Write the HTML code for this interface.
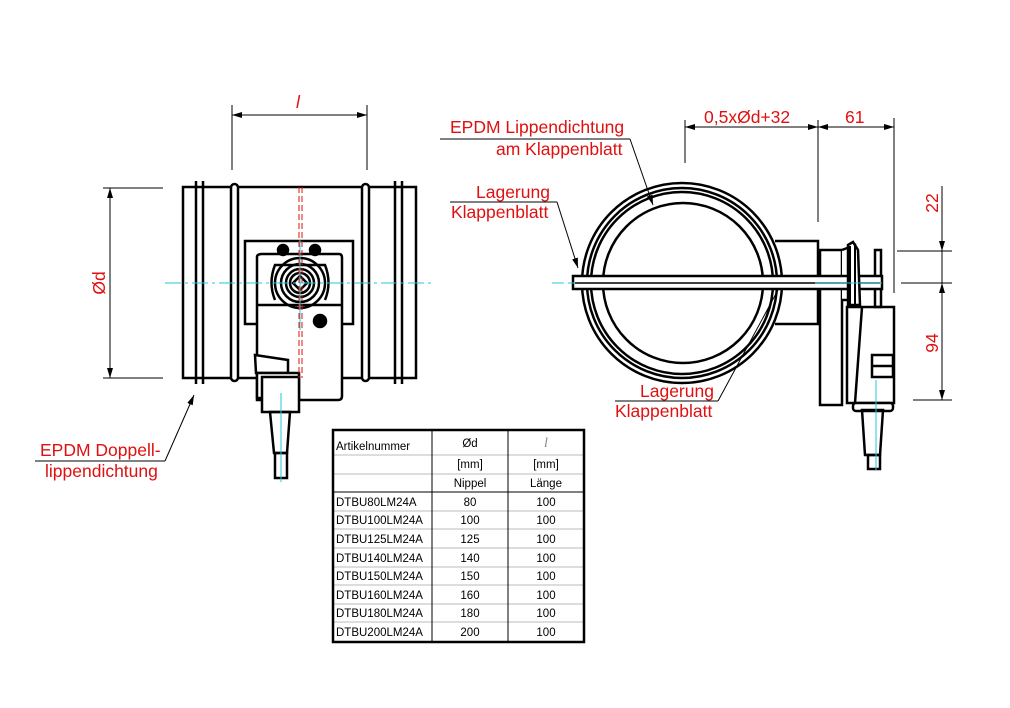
<!DOCTYPE html>
<html><head><meta charset="utf-8"><style>
body{margin:0;background:#fff;}
svg{display:block;}
.r{fill:#e01010;font-family:"Liberation Sans",sans-serif;font-size:17.5px;}
.t{font-family:"Liberation Sans",sans-serif;font-size:11.5px;fill:#000;}
</style></head><body>
<svg width="1010" height="708" viewBox="0 0 1010 708" xmlns="http://www.w3.org/2000/svg">
<defs>
<marker id="a" viewBox="0 0 10 6" refX="10" refY="3" markerWidth="10" markerHeight="6" orient="auto" markerUnits="userSpaceOnUse"><path d="M0,0L10,3L0,6z" fill="#000"/></marker>
</defs>
<g stroke="#000" fill="none">
<line x1="232" y1="105" x2="232" y2="170" stroke-width="1"/>
<line x1="367" y1="105" x2="367" y2="170" stroke-width="1"/>
<line x1="250" y1="115" x2="232" y2="115" marker-end="url(#a)"/>
<line x1="250" y1="115" x2="367" y2="115" marker-end="url(#a)"/>
<line x1="103" y1="188" x2="163" y2="188"/>
<line x1="103" y1="378" x2="163" y2="378"/>
<line x1="110" y1="280" x2="110" y2="188" marker-end="url(#a)"/>
<line x1="110" y1="280" x2="110" y2="378" marker-end="url(#a)"/>
<g stroke-width="2.5">
<rect x="183" y="187" width="233" height="191"/>
<line x1="196" y1="181" x2="196" y2="384"/>
<line x1="203" y1="181" x2="203" y2="384"/>
<line x1="395" y1="181" x2="395" y2="384"/>
<line x1="402" y1="181" x2="402" y2="384"/>
<rect x="231" y="184" width="7" height="197" rx="3.5" fill="#fff"/>
<rect x="362" y="184" width="7" height="197" rx="3.5" fill="#fff"/>
<rect x="245" y="241" width="108" height="83" fill="#fff"/>
<path d="M257,257 Q257,254 262,254 L339,254 Q342,254 342,258 L342,396 Q342,400 338,400 L257,400 Z" fill="#fff"/>
<line x1="258" y1="305" x2="342" y2="305"/>
<circle cx="300" cy="283" r="25"/>
<circle cx="300" cy="283" r="19"/>
<circle cx="300" cy="283" r="14"/>
<circle cx="300" cy="283" r="10"/>
<path d="M300,276 L307,283 L300,290 L293,283Z"/>
<path d="M275,300 Q268,283 275,265 L325,265 Q332,283 325,300"/>
<circle cx="283" cy="250" r="5" fill="#000"/>
<circle cx="315" cy="250" r="5" fill="#000"/>
<circle cx="320" cy="321" r="6" fill="#000"/>
<path d="M255,355 L288,360 L288,373 L256,373 L255,355Z" fill="#fff"/>
<rect x="257" y="373" width="42" height="25" fill="#fff"/>
<rect x="262" y="377" width="37" height="35" fill="#fff"/>
<path d="M270,412 L290,412 L287,453 L274,453Z"/>
<rect x="275" y="453" width="12" height="25"/>
</g>
<line x1="299" y1="187" x2="299" y2="378" stroke="#e01010" stroke-dasharray="6,3"/>
<line x1="302" y1="187" x2="302" y2="378" stroke="#e01010" stroke-dasharray="6,3"/>
<line x1="165" y1="283" x2="432" y2="283" stroke="#22c8d8" stroke-dasharray="16,4,3,4"/>
<line x1="300" y1="240" x2="300" y2="330" stroke="#22c8d8"/>
<line x1="281" y1="393" x2="281" y2="482" stroke="#22c8d8"/>
<line x1="165" y1="461" x2="194" y2="395" marker-end="url(#a)"/>
<line x1="35" y1="461" x2="165" y2="461"/>
<line x1="685" y1="120" x2="685" y2="163"/>
<line x1="818" y1="120" x2="818" y2="222"/>
<line x1="894" y1="118" x2="894" y2="293"/>
<line x1="750" y1="127" x2="685" y2="127" marker-end="url(#a)"/>
<line x1="750" y1="127" x2="818" y2="127" marker-end="url(#a)"/>
<line x1="855" y1="127" x2="818" y2="127" marker-end="url(#a)"/>
<line x1="855" y1="127" x2="894" y2="127" marker-end="url(#a)"/>
<line x1="942" y1="186" x2="942" y2="251" marker-end="url(#a)"/>
<line x1="942" y1="251" x2="942" y2="283"/>
<line x1="942" y1="340" x2="942" y2="283" marker-end="url(#a)"/>
<line x1="942" y1="340" x2="942" y2="400" marker-end="url(#a)"/>
<line x1="897" y1="251" x2="952" y2="251"/>
<line x1="901" y1="283" x2="952" y2="283"/>
<line x1="913" y1="400" x2="952" y2="400"/>
<g stroke-width="2.5">
<path d="M775,241 L818,241 L818,324 L775,324" fill="#fff"/>
<circle cx="682" cy="283" r="100" fill="#fff"/>
<circle cx="682" cy="283" r="95"/>
<circle cx="682" cy="283" r="91"/>
<circle cx="683" cy="283" r="80"/>
<rect x="820" y="250" width="22" height="155"/>
<path d="M842,250 L855,245 L858,300 L842,300" fill="#fff"/>
<rect x="847" y="307" width="47" height="96" fill="#fff"/>
<line x1="862" y1="307" x2="855" y2="403"/>
<rect x="853" y="403" width="40" height="8" rx="3" fill="#fff"/>
<rect x="872" y="355" width="21" height="22"/>
<line x1="872" y1="366" x2="893" y2="366"/>
<rect x="875" y="250" width="6" height="57"/>
<path d="M862,410 L883,410 L880,455 L865,455Z"/>
<rect x="868" y="455" width="12" height="14"/>
<rect x="573" y="276" width="309" height="13" fill="#fff"/>
<line x1="575" y1="283" x2="880" y2="283" stroke-width="1.5"/>
<path d="M848,245 L853,242 L858,250 L860,305 L848,305 Z" fill="#fff"/>
</g>
<line x1="850" y1="246" x2="850" y2="305" stroke-width="2"/>
<line x1="855" y1="246" x2="855" y2="305" stroke-width="2"/>
<line x1="552" y1="283" x2="575" y2="283" stroke="#22c8d8" stroke-dasharray="12,4"/>
<line x1="815" y1="283" x2="882" y2="283" stroke="#22c8d8"/>
<line x1="876" y1="380" x2="876" y2="470" stroke="#22c8d8"/>
<line x1="440" y1="139" x2="630" y2="139"/>
<line x1="630" y1="139" x2="653" y2="205" marker-end="url(#a)"/>
<line x1="450" y1="202" x2="557" y2="202"/>
<line x1="557" y1="202" x2="578" y2="268" marker-end="url(#a)"/>
<line x1="615" y1="401" x2="718" y2="401"/>
<line x1="718" y1="401" x2="778" y2="290"/>
</g>
<text class="r" x="296" y="108" font-style="italic" font-family="Liberation Serif" font-size="18">l</text>
<text class="r" transform="translate(105,283) rotate(-90)" text-anchor="middle" font-size="21">Ød</text>
<text class="r" x="40" y="456">EPDM Doppell-</text>
<text class="r" x="45" y="477">lippendichtung</text>
<text class="r" x="450" y="133">EPDM Lippendichtung</text>
<text class="r" x="496" y="155">am Klappenblatt</text>
<text class="r" x="476" y="198">Lagerung</text>
<text class="r" x="451" y="218">Klappenblatt</text>
<text class="r" x="640" y="397">Lagerung</text>
<text class="r" x="615" y="417">Klappenblatt</text>
<text class="r" x="704" y="123" font-size="22">0,5xØd+32</text>
<text class="r" x="845" y="123" font-size="22">61</text>
<text class="r" transform="translate(938,203) rotate(-90)" text-anchor="middle" font-size="21">22</text>
<text class="r" transform="translate(938,343) rotate(-90)" text-anchor="middle" font-size="21">94</text>
<g stroke="#bbb" stroke-width="1">
<line x1="333" y1="455" x2="584" y2="455"/>
<line x1="333" y1="474" x2="584" y2="474"/>
<line x1="333" y1="492" x2="584" y2="492" stroke="#000"/>
<line x1="333" y1="511" x2="584" y2="511"/>
<line x1="333" y1="529" x2="584" y2="529"/>
<line x1="333" y1="548" x2="584" y2="548"/>
<line x1="333" y1="567" x2="584" y2="567"/>
<line x1="333" y1="585" x2="584" y2="585"/>
<line x1="333" y1="604" x2="584" y2="604"/>
<line x1="333" y1="622" x2="584" y2="622"/>
<line x1="432" y1="430" x2="432" y2="642" stroke="#000"/>
<line x1="508" y1="430" x2="508" y2="642" stroke="#000"/>
</g>
<rect x="333" y="430" width="251" height="212" fill="none" stroke="#000" stroke-width="2.5"/>
<g class="t">
<text x="336" y="450">Artikelnummer</text>
<text x="470" y="447" text-anchor="middle">Ød</text>
<text x="546" y="447" text-anchor="middle" font-style="italic" fill="#888" font-family="Liberation Serif" font-size="14">l</text>
<text x="470" y="468" text-anchor="middle">[mm]</text>
<text x="546" y="468" text-anchor="middle">[mm]</text>
<text x="470" y="487" text-anchor="middle">Nippel</text>
<text x="546" y="487" text-anchor="middle">Länge</text>
<text x="336" y="506">DTBU80LM24A</text><text x="470" y="506" text-anchor="middle">80</text><text x="546" y="506" text-anchor="middle">100</text>
<text x="336" y="524">DTBU100LM24A</text><text x="470" y="524" text-anchor="middle">100</text><text x="546" y="524" text-anchor="middle">100</text>
<text x="336" y="543">DTBU125LM24A</text><text x="470" y="543" text-anchor="middle">125</text><text x="546" y="543" text-anchor="middle">100</text>
<text x="336" y="562">DTBU140LM24A</text><text x="470" y="562" text-anchor="middle">140</text><text x="546" y="562" text-anchor="middle">100</text>
<text x="336" y="580">DTBU150LM24A</text><text x="470" y="580" text-anchor="middle">150</text><text x="546" y="580" text-anchor="middle">100</text>
<text x="336" y="599">DTBU160LM24A</text><text x="470" y="599" text-anchor="middle">160</text><text x="546" y="599" text-anchor="middle">100</text>
<text x="336" y="617">DTBU180LM24A</text><text x="470" y="617" text-anchor="middle">180</text><text x="546" y="617" text-anchor="middle">100</text>
<text x="336" y="636">DTBU200LM24A</text><text x="470" y="636" text-anchor="middle">200</text><text x="546" y="636" text-anchor="middle">100</text>
</g>
</svg>
</body></html>
